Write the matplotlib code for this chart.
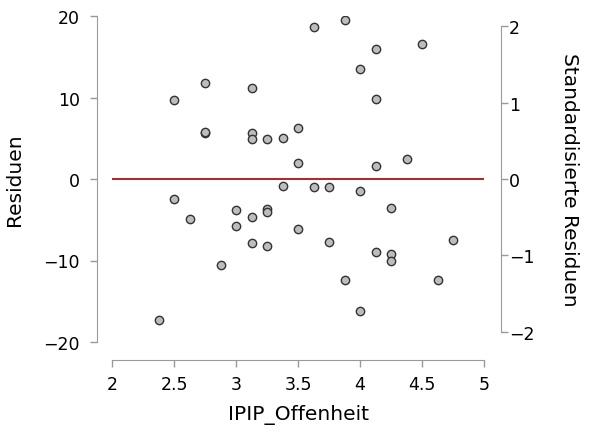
import matplotlib
matplotlib.use("Agg")
import matplotlib.pyplot as plt

# IPIP_Offenheit vs Residuen
offenheit = [2.375, 2.5, 2.5, 2.625, 2.75, 2.75, 2.75, 2.875, 3.0, 3.0,
             3.125, 3.125, 3.125, 3.125, 3.125, 3.25, 3.25, 3.25, 3.25, 3.375,
             3.375, 3.5, 3.5, 3.5, 3.625, 3.625, 3.75, 3.75, 3.875, 3.875,
             4.0, 4.0, 4.0, 4.125, 4.125, 4.125, 4.125, 4.25, 4.25, 4.25,
             4.375, 4.5, 4.625, 4.75]
residuen = [-17.3, 9.7, -2.5, -4.95, 11.8, 5.7, 5.8, -10.6, -3.85, -5.8,
            11.2, 5.7, 4.9, -4.66, -7.8, 4.9, -3.7, -4.0, -8.2, 5.0,
            -0.8, 6.2, 2.0, -6.1, 18.7, -1.0, -1.0, -7.7, 19.5, -12.4,
            13.5, -1.5, -16.2, 16.0, 9.8, 1.55, -8.9, -3.6, -9.2, -10.0,
            2.5, 16.6, -12.4, -7.5]

x_ticks = [2, 2.5, 3, 3.5, 4, 4.5, 5]
x_ticklabels = ["2", "2.5", "3", "3.5", "4", "4.5", "5"]
y_ticks = [-20, -10, 0, 10, 20]
std_ticks = [-2, -1, 0, 1, 2]
resid_sd = 9.385  # residual units per standardized unit

spine_col = "#9a9a9a"

fig = plt.figure(figsize=(6, 4.39), dpi=100)
ax = fig.add_axes([112/600, 1 - 343/439, (484-112)/600, (343-17)/439])

ax.plot([2, 5], [0, 0], color="#b01010", lw=1.3, zorder=1)
ax.scatter(offenheit, residuen, s=36, facecolor="#bdbdbd", edgecolor="#333333",
           linewidth=1.0, zorder=3)

ax.set_xlim(2, 5)
ax.set_ylim(-20, 20)
ax.set_xticks(x_ticks)
ax.set_xticklabels(x_ticklabels)
ax.set_yticks(y_ticks)

for s in ["top", "right"]:
    ax.spines[s].set_visible(False)
ax.spines["left"].set_position(("outward", 11))
ax.spines["bottom"].set_position(("outward", 13))
ax.spines["left"].set_bounds(-20, 20)
ax.spines["bottom"].set_bounds(2, 5)
for s in ["left", "bottom"]:
    ax.spines[s].set_color(spine_col)
ax.tick_params(axis="both", colors=spine_col, labelcolor="black", labelsize=12.5,
               length=5, width=1, direction="out")
ax.tick_params(axis="x", pad=6)
ax.tick_params(axis="y", pad=7)

ax.set_xlabel("IPIP_Offenheit", fontsize=14.5, labelpad=8)
ax.set_ylabel("Residuen", fontsize=14.5, labelpad=14)

ax2 = ax.twinx()
ax2.set_ylim(-20/resid_sd, 20/resid_sd)
ax2.set_yticks(std_ticks)
for s in ["top", "left", "bottom"]:
    ax2.spines[s].set_visible(False)
ax2.spines["right"].set_position(("outward", 12))
ax2.spines["right"].set_bounds(-2, 2)
ax2.spines["right"].set_color(spine_col)
ax2.tick_params(axis="y", colors=spine_col, labelcolor="black", labelsize=12.5,
                length=5, width=1, pad=1)
ax2.set_ylabel("Standardisierte Residuen", fontsize=14.5, rotation=-90, labelpad=32)

fig.savefig("out.png", dpi=100)
